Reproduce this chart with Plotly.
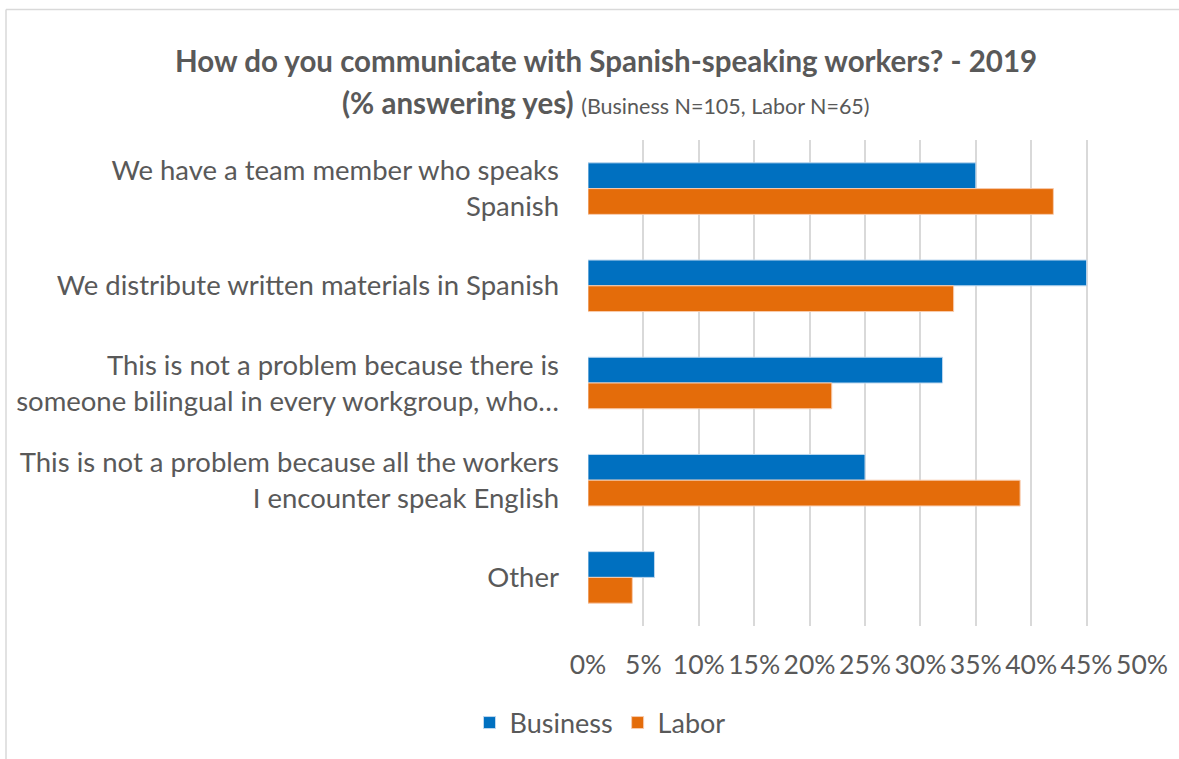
import plotly.graph_objects as go

categories = [
    "We have a team member who speaks<br>Spanish",
    "We distribute written materials in Spanish",
    "This is not a problem because there is<br>someone bilingual in every workgroup, who…",
    "This is not a problem because all the workers<br>I encounter speak English",
    "Other",
]
business = [35, 45, 32, 25, 6]
labor = [42, 33, 22, 39, 4]
tick_vals = [0, 5, 10, 15, 20, 25, 30, 35, 40, 45, 50]
tick_text = [f"{v}%" for v in tick_vals]

FONT = "Lato"
GREY = "#595959"

fig = go.Figure()
fig.add_trace(go.Bar(y=categories, x=business, name="Business", orientation="h",
                     marker=dict(color="#0070C0", line=dict(color="#BDD7EE", width=1))))
fig.add_trace(go.Bar(y=categories, x=labor, name="Labor", orientation="h",
                     marker=dict(color="#E46C0A", line=dict(color="#F8CBAD", width=1))))

L, R, T, B = 588, 1142, 140, 626
W, H = 1179, 759
pw, ph = R - L, B - T

def px(x):
    return (x - L) / pw

def py(y):
    return (B - y) / ph

fig.update_layout(
    width=W, height=H,
    margin=dict(l=L, r=W - R, t=T, b=H - B, pad=0),
    paper_bgcolor="white", plot_bgcolor="white",
    barmode="group", bargap=0.47, bargroupgap=0,
    font=dict(family=FONT, color=GREY, size=27),
    showlegend=True,
    legend=dict(orientation="h", x=px(600), xanchor="center", y=py(723), yanchor="middle",
                font=dict(size=27, color=GREY), traceorder="normal", itemwidth=30),
    xaxis=dict(range=[0, 50], tickvals=tick_vals, ticktext=tick_text, showgrid=True,
               gridcolor="#D9D9D9", gridwidth=1.5, zeroline=False, showline=False,
               ticks="", ticklabelstandoff=20, tickangle=0, tickfont=dict(size=26.5, color=GREY),
               fixedrange=True),
    yaxis=dict(autorange="reversed", showgrid=False, zeroline=False, showline=False,
               ticks="", ticklabelstandoff=28, tickfont=dict(size=27.5, color=GREY)),
    annotations=[
        dict(text="<b>How do you communicate with Spanish-speaking workers? - 2019</b>",
             xref="paper", yref="paper", x=px(606), y=py(60), xanchor="center", yanchor="middle",
             showarrow=False, font=dict(size=29.5, color=GREY, family=FONT)),
        dict(text="<b>(% answering yes)</b> <span style='font-size:21.5px'>(Business N=105, Labor N=65)</span>",
             xref="paper", yref="paper", x=px(606), y=py(102), xanchor="center", yanchor="middle",
             showarrow=False, font=dict(size=29.5, color=GREY, family=FONT)),
    ],
    shapes=[
        dict(type="line", xref="paper", yref="paper", x0=px(6), x1=px(1185), y0=py(9.5), y1=py(9.5),
             line=dict(color="#D9D9D9", width=1.5)),
        dict(type="line", xref="paper", yref="paper", x0=px(6), x1=px(6), y0=py(9.5), y1=py(770),
             line=dict(color="#D9D9D9", width=1.5)),
    ],
)

fig.write_html("out.html")
